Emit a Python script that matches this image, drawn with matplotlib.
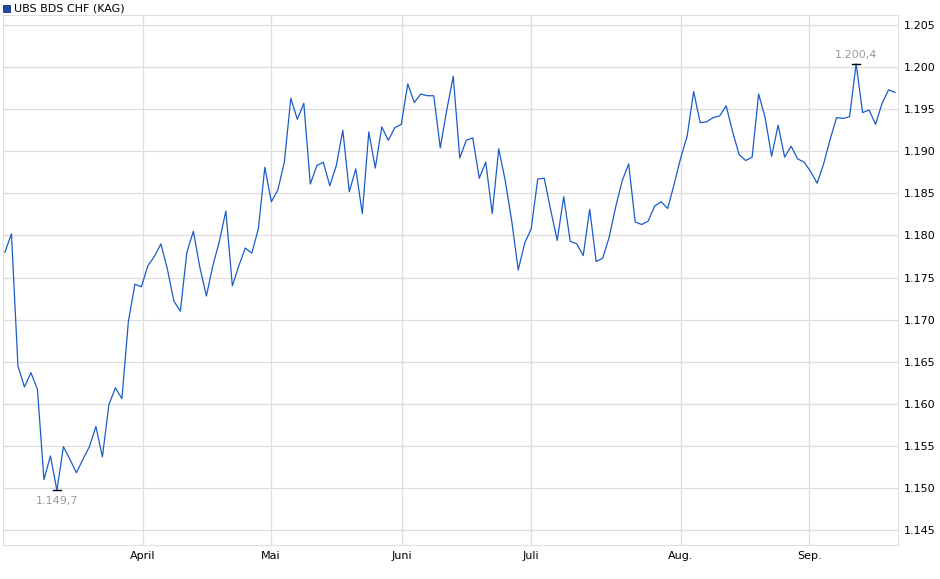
import matplotlib
matplotlib.use("Agg")
import matplotlib.pyplot as plt
from matplotlib.patches import Rectangle

values = [1.1780,1.1802,1.1645,1.1620,1.1637,1.1617,1.1510,1.1538,1.1497,1.1549,1.1534,1.1518,1.1534,1.1549,1.1573,1.1537,1.1599,1.1619,1.1606,1.1698,1.1742,1.1739,1.1764,1.1775,1.1790,1.1760,1.1722,1.1710,1.1780,1.1805,1.1762,1.1728,1.1764,1.1793,1.1829,1.1740,1.1764,1.1785,1.1779,1.1808,1.1881,1.1840,1.1854,1.1887,1.1963,1.1938,1.1957,1.1861,1.1883,
          1.1887,1.1859,1.1883,1.1925,1.1852,1.1879,1.1826,1.1923,1.1880,1.1929,1.1913,1.1928,1.1932,1.1980,1.1958,1.1968,1.1966,1.1966,1.1904,1.1949,1.1989,1.1892,1.1913,1.1916,1.1868,1.1887,1.1826,1.1903,1.1865,1.1817,1.1759,1.1791,1.1808,1.1867,1.1868,1.1830,1.1794,1.1846,1.1793,1.1790,1.1776,1.1831,1.1769,1.1773,1.1798,1.1834,
          1.1865,1.1885,1.1816,1.1813,1.1817,1.1835,1.1840,1.1832,1.1861,1.1892,1.1918,1.1971,1.1934,1.1935,1.1940,1.1942,1.1954,1.1923,1.1896,1.1889,1.1893,1.1968,1.1940,1.1894,1.1931,1.1893,1.1906,1.1891,1.1887,1.1876,1.1862,1.1885,1.1914,1.1940,1.1939,1.1941,1.2004,1.1946,1.1949,1.1932,1.1957,1.1973,1.1970]
month_labels = ["April", "Mai", "Juni", "Juli", "Aug.", "Sep."]
month_pos = [21.2, 40.9, 61.1, 80.9, 104.0, 123.8]
yticks = [1.145, 1.150, 1.155, 1.160, 1.165, 1.170, 1.175, 1.180, 1.185, 1.190, 1.195, 1.200, 1.205]
series_name = "UBS BDS CHF (KAG)"

W, H = 940, 579
fig = plt.figure(figsize=(W/100, H/100), dpi=100)
ax = fig.add_axes([3/W, 1-545/H, 895/W, 530/H])
x = list(range(len(values)))
ax.plot(x, values, color="#1a5cc8", lw=0.9)
ax.set_xlim(-0.3, len(values)-1+0.45)
ax.set_ylim(1.14322, 1.20619)
ax.set_yticks(yticks)
ax.set_yticklabels([f"{v:.3f}" for v in yticks], fontsize=8)
ax.yaxis.tick_right()
ax.set_xticks(month_pos)
ax.set_xticklabels(month_labels, fontsize=8)
ax.tick_params(length=0, pad=4)
ax.grid(True, color="#dddddd", lw=0.9)
for s in ax.spines.values():
    s.set_color("#dddddd")

# min / max markers
imin = values.index(min(values)); imax = values.index(max(values))
for i, off, va in [(imin, -9, "top"), (imax, 8, "bottom")]:
    ax.plot([i-0.6, i+0.6], [values[i], values[i]], color="black", lw=1)
    ax.annotate(f"{values[i]:.4f}".replace(".", ",", 1).replace(",", ".", 0) , (i, values[i]),
                xytext=(0, off), textcoords="offset points", ha="center", va=va,
                fontsize=8, color="#999999", alpha=0)
for i, off, va in [(imin, -4, "top"), (imax, 3, "bottom")]:
    s = f"{values[i]*1000:.1f}".replace(".", ",")
    txt = "1." + s[1:]
    ax.annotate(txt, (i, values[i]), xytext=(0, off), textcoords="offset points",
                ha="center", va=va, fontsize=8, color="#999999")

fig.patches.append(Rectangle((3/W, 1-12/H), 7/W, 7/H, transform=fig.transFigure,
                             facecolor="#1a4fa8", edgecolor="#0d2f70", lw=0.6))
fig.text(14/W, 1-8.5/H, series_name, fontsize=8, va="center", ha="left")
fig.savefig("out.png", dpi=100)
